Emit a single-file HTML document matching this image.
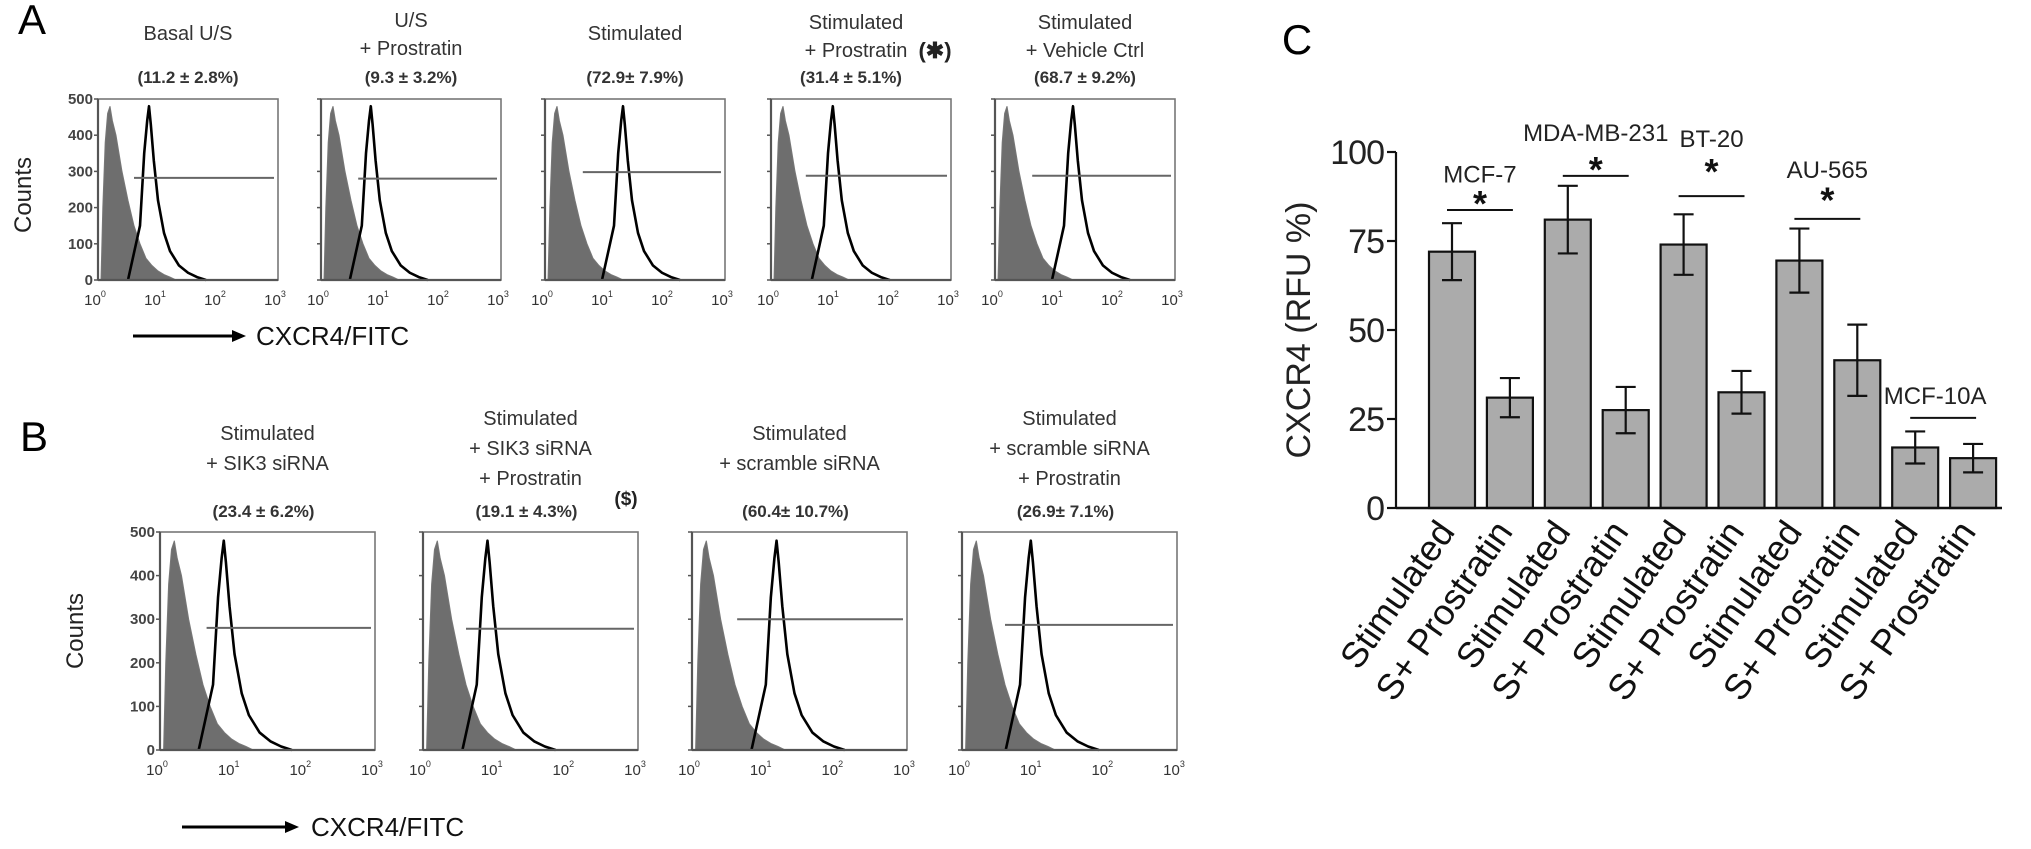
<!DOCTYPE html>
<html><head><meta charset="utf-8"><style>
html,body{margin:0;padding:0;background:#fff;}
svg{display:block;font-family:"Liberation Sans",Arial,sans-serif;}
</style></head><body>
<svg id="fig" width="2031" height="849" viewBox="0 0 2031 849" xmlns="http://www.w3.org/2000/svg"></svg>
<script>
// ---------- Panel C data ----------
const categoriesC = ['Stimulated','S+ Prostratin','Stimulated','S+ Prostratin','Stimulated','S+ Prostratin','Stimulated','S+ Prostratin','Stimulated','S+ Prostratin'];
const valuesC = [72, 31, 81, 27.5, 74, 32.5, 69.5, 41.5, 17, 14];
const errorsC = [8, 5.5, 9.5, 6.5, 8.5, 6, 9, 10, 4.5, 4];
const yTicksC = [0, 25, 50, 75, 100];
const groupNames = ['MCF-7', 'MDA-MB-231', 'BT-20', 'AU-565', 'MCF-10A'];
const groupLabelValue = [94, 105.6, 104, 95.2, 31.7];
const groupLineValue = [83.7, 93.3, 87.6, 81.2, 25.3];
const groupStar = [true, true, true, true, false];
const groupStarValue = [86.5, 96, 95.5, 87.5, 0];

// ---------- Histogram data ----------
const grayLog = [0.05,0.08,0.12,0.16,0.2,0.24,0.3,0.4,0.5,0.6,0.7,0.8,0.9,1.0,1.1,1.2,1.3];
const grayCnt = [0,200,380,460,480,440,400,300,220,150,100,60,40,25,15,8,0];
const blackOff = [-0.35,-0.15,-0.08,-0.03,0,0.03,0.08,0.15,0.25,0.35,0.5,0.65,0.8,0.95];
const blackCnt = [0,150,350,440,480,430,330,220,130,80,40,20,8,0];
const peaksA = [0.85, 0.83, 1.3, 1.03, 1.3];
const gateStartA = [0.6, 0.62, 0.63, 0.58, 0.62];
const gateCntA = [282, 280, 298, 288, 288];
const peaksB = [0.89, 0.9, 1.18, 0.96];
const gateStartB = [0.65, 0.6, 0.63, 0.6];
const gateCntB = [280, 278, 300, 287];
const yTicksHist = [0,100,200,300,400,500];

const NS = 'http://www.w3.org/2000/svg';
const svg = document.getElementById('fig');
function mk(tag, attrs, parent) {
  const e = document.createElementNS(NS, tag);
  for (const k in attrs) e.setAttribute(k, attrs[k]);
  (parent || svg).appendChild(e);
  return e;
}
function txt(x, y, s, size, opts, parent) {
  const o = Object.assign({x: x, y: y, 'font-size': size, fill: '#222', 'text-anchor': 'middle'}, opts || {});
  const t = mk('text', o, parent);
  t.textContent = s;
  return t;
}

// panel letters
let L = txt(32, 34, 'A', 42, {fill:'#000'});


L = txt(34, 451, 'B', 42, {fill:'#000'});


L = txt(1297, 54, 'C', 42, {fill:'#000'});



function histogram(px, py, w, h, peak, gStart, gCnt, showY, titles, valueText, extra) {
  const g = mk('g', {});
  
  
  const xs = l => px + l / 3 * w;
  const ys = c => py + h - c / 500 * h;
  let d = 'M' + xs(grayLog[0]) + ',' + ys(0);
  for (let i = 0; i < grayLog.length; i++) d += ' L' + xs(grayLog[i]) + ',' + ys(grayCnt[i]);
  d += ' Z';
  const gp = mk('path', {d: d, fill: '#6e6e6e', stroke: '#777', 'stroke-width': 1}, g);
  
  
  let d2 = '';
  for (let i = 0; i < blackOff.length; i++) d2 += (i ? ' L' : 'M') + xs(peak + blackOff[i]) + ',' + ys(blackCnt[i]);
  const bp = mk('path', {d: d2, fill: 'none', stroke: '#000', 'stroke-width': 2.6, 'stroke-linejoin': 'round'}, g);
  
  
  const gl = mk('line', {x1: xs(gStart), x2: px + w - 4, y1: ys(gCnt), y2: ys(gCnt), stroke: '#666', 'stroke-width': 2}, g);
  
  
  const fr = mk('rect', {x: px, y: py, width: w, height: h, fill: 'none', stroke: '#777', 'stroke-width': 1.6}, g);
  
  
  mk('line', {x1: px, x2: px + w, y1: py + h, y2: py + h, stroke: '#555', 'stroke-width': 2.2}, g);
  mk('line', {x1: px, x2: px, y1: py, y2: py + h, stroke: '#555', 'stroke-width': 2.2}, g);
  for (let i = 0; i < yTicksHist.length; i++) {
    const y = ys(yTicksHist[i]);
    mk('line', {x1: px - 4, x2: px, y1: y, y2: y, stroke: '#555', 'stroke-width': 1.5}, g);
    if (showY) {
      const t = txt(px - 5, y + 5, String(yTicksHist[i]), 15, {'text-anchor': 'end', 'font-weight': 'bold', fill: '#444'}, g);
      
      
    }
  }
  for (let k = 0; k <= 3; k++) {
    const t = txt(xs(k) - 3, py + h + 25, '10', 15, {fill: '#333'}, g);
    
    
    const s = mk('tspan', {dy: -8, 'font-size': 9}, t);
    s.textContent = String(k);
  }
  for (let i = 0; i < titles.length; i++) {
    const t = txt(titles[i][1], titles[i][2], titles[i][0], 20, {fill: '#333'}, g);
    
    
  }
  const v = txt(valueText[1], valueText[2], valueText[0], 17, {'font-weight': 'bold', fill: '#333'}, g);
  
  
  if (extra) {
    const e = txt(extra[1], extra[2], extra[0], extra[3], {'font-weight': 'bold', fill: '#222'}, g);
    
    
  }
}

// Panel A
const ax = [98, 321, 545, 771, 995], aw = 180, ay = 99, ah = 181;
const aTitles = [[['Basal U/S', 0, 40]], [['U/S', 0, 27], ['+ Prostratin', 0, 55]], [['Stimulated', 0, 40]], [['Stimulated', 0, 29], ['+ Prostratin', 0, 57]], [['Stimulated', 0, 29], ['+ Vehicle Ctrl', 0, 57]]];
const aVals = ['(11.2 ± 2.8%)', '(9.3 ± 3.2%)', '(72.9± 7.9%)', '(31.4 ± 5.1%)', '(68.7 ± 9.2%)'];
for (let i = 0; i < 5; i++) {
  const cx = ax[i] + aw / 2;
  const tt = aTitles[i].map(t => [t[0], cx + (i === 3 ? -5 : 0), t[2]]);
  histogram(ax[i], ay, aw, ah, peaksA[i], gateStartA[i], gateCntA[i], i === 0, tt, [aVals[i], cx - (i === 3 ? 10 : 0), 83], i === 3 ? ['(✱)', cx + 74, 58, 22] : null);
}
// Panel B
const bx = [160, 423, 692, 962], bw = 215, by = 532, bh = 218;
const bTitles = [[['Stimulated', 0, 440], ['+ SIK3 siRNA', 0, 470]], [['Stimulated', 0, 425], ['+ SIK3 siRNA', 0, 455], ['+ Prostratin', 0, 485]], [['Stimulated', 0, 440], ['+ scramble siRNA', 0, 470]], [['Stimulated', 0, 425], ['+ scramble siRNA', 0, 455], ['+ Prostratin', 0, 485]]];
const bVals = ['(23.4 ± 6.2%)', '(19.1 ± 4.3%)', '(60.4± 10.7%)', '(26.9± 7.1%)'];
for (let i = 0; i < 4; i++) {
  const cx = bx[i] + bw / 2;
  const tt = bTitles[i].map(t => [t[0], cx, t[2]]);
  histogram(bx[i], by, bw, bh, peaksB[i], gateStartB[i], gateCntB[i], i === 0, tt, [bVals[i], cx - 4, 517], i === 1 ? ['($)', 626, 505, 19] : null);
}

function countsLabel(x, y) {
  const t = txt(x, y, 'Counts', 24, {fill: '#222', transform: 'rotate(-90 ' + x + ' ' + y + ')'});
  
  
}
countsLabel(31, 195);
countsLabel(83, 631);
function arrowLabel(x1, x2, y, tx) {
  const l = mk('line', {x1: x1, x2: x2 - 10, y1: y, y2: y, stroke: '#000', 'stroke-width': 3});
  
  
  mk('polygon', {points: (x2 - 14) + ',' + (y - 6) + ' ' + x2 + ',' + y + ' ' + (x2 - 14) + ',' + (y + 6), fill: '#000'});
  const t = txt(tx, y + 9, 'CXCR4/FITC', 26, {'text-anchor': 'start', fill: '#111'});
  
  
}
arrowLabel(133, 246, 336, 256);
arrowLabel(182, 299, 827, 311);

// ---------- Panel C ----------
const cLeft = 1396, cRight = 2002, cTop = 152, cBottom = 508;
const yScaleC = v => cBottom - v / 100 * (cBottom - cTop);
const firstCenter = 1452, pitch = 57.9, barW = 46;
const xScaleC = i => firstCenter + i * pitch;
const cg = mk('g', {});


for (let i = 0; i < valuesC.length; i++) {
  const x = xScaleC(i), y = yScaleC(valuesC[i]);
  const r = mk('rect', {x: x - barW / 2, y: y, width: barW, height: cBottom - y, fill: '#ababab', stroke: '#111', 'stroke-width': 2.2}, cg);
  
  
  const yt = yScaleC(valuesC[i] + errorsC[i]), yb = yScaleC(valuesC[i] - errorsC[i]);
  const eb = mk('path', {d: 'M' + x + ',' + yt + ' V' + yb + ' M' + (x - 10) + ',' + yt + ' H' + (x + 10) + ' M' + (x - 10) + ',' + yb + ' H' + (x + 10), stroke: '#111', 'stroke-width': 2.2, fill: 'none'}, cg);
  
  
  const lx = x + 4, ly = cBottom + 24;
  const t = txt(lx, ly, categoriesC[i], 36, {'text-anchor': 'end', fill: '#111', transform: 'rotate(-55 ' + lx + ' ' + ly + ')'}, cg);
  
  
}
const yAx = mk('line', {x1: cLeft, x2: cLeft, y1: cTop, y2: cBottom, stroke: '#111', 'stroke-width': 2.2}, cg);


const xAx = mk('line', {x1: cLeft, x2: cRight, y1: cBottom, y2: cBottom, stroke: '#111', 'stroke-width': 2.4}, cg);


for (let i = 0; i < yTicksC.length; i++) {
  const y = yScaleC(yTicksC[i]);
  mk('line', {x1: cLeft - 9, x2: cLeft, y1: y, y2: y, stroke: '#111', 'stroke-width': 2.2}, cg);
  const t = txt(cLeft - 12, y + 12, String(yTicksC[i]), 34, {'text-anchor': 'end', fill: '#222', 'letter-spacing': '-1'}, cg);
  
  
}
const yt = txt(1310, 330, 'CXCR4 (RFU %)', 34, {fill: '#222', transform: 'rotate(-90 1310 330)'}, cg);


for (let gi = 0; gi < groupNames.length; gi++) {
  const x1 = xScaleC(gi * 2) - 5, x2 = xScaleC(gi * 2 + 1) + 3;
  const cx = (x1 + x2) / 2;
  const ly = yScaleC(groupLineValue[gi]);
  const ln = mk('line', {x1: x1, x2: x2, y1: ly, y2: ly, stroke: '#111', 'stroke-width': 2}, cg);
  
  
  const lab = txt(gi === 4 ? cx - 8 : cx, yScaleC(groupLabelValue[gi]) + 9, groupNames[gi], 24, {fill: '#222'}, cg);
  
  
  if (groupStar[gi]) {
    const st = txt(cx, yScaleC(groupStarValue[gi]) + 16, '*', 36, {'font-weight': 'bold', fill: '#111'}, cg);
    
    
  }
}
</script>
</body></html>
